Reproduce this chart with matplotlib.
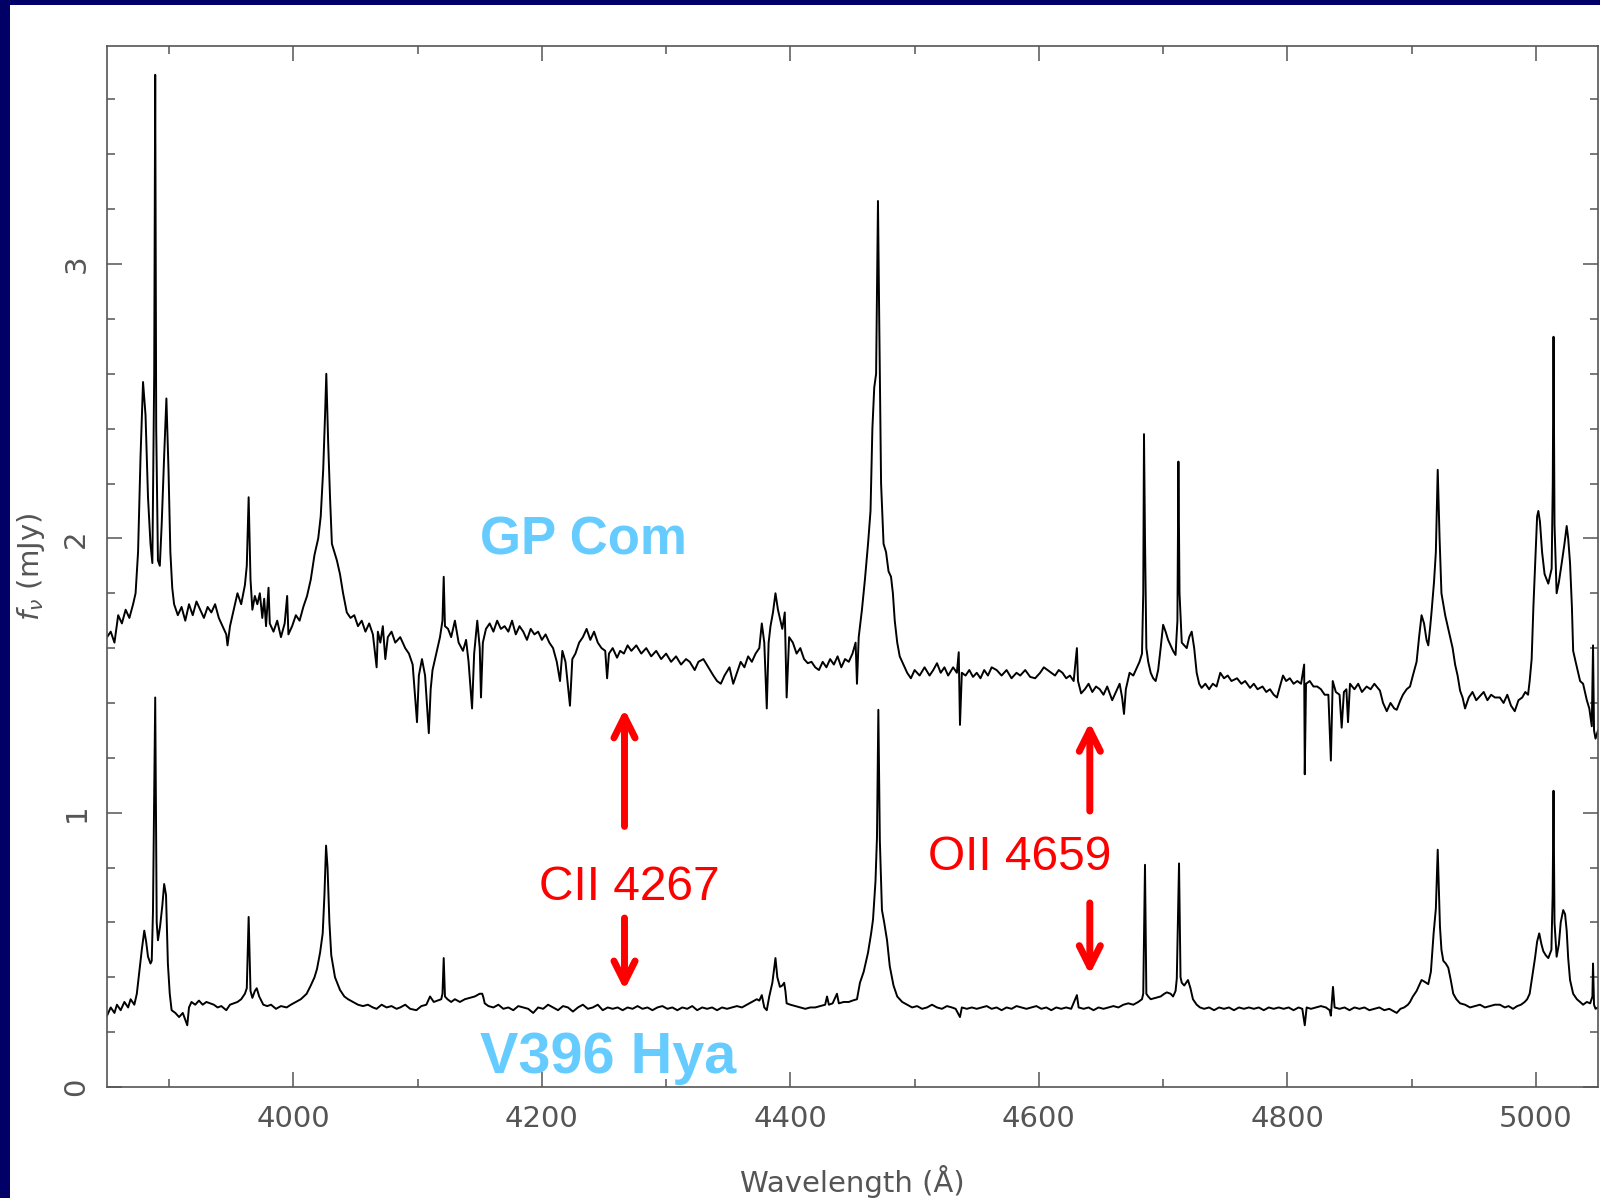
import matplotlib
matplotlib.use("Agg")
import matplotlib.pyplot as plt
from matplotlib.patches import Rectangle
from matplotlib.ticker import MultipleLocator

# GP Com spectrum (wavelength in Angstrom, flux in mJy)
gp_wave = [
    3850, 3853, 3856, 3859, 3862, 3865, 3868, 3871, 3873, 3875,
    3877, 3879, 3881, 3883, 3885, 3886.5, 3888, 3888.8, 3889.6, 3891,
    3892.5, 3894, 3896, 3897.8, 3899.5, 3901, 3902.5, 3904, 3907, 3910,
    3913, 3916, 3919, 3922, 3925, 3928, 3931, 3934, 3937, 3940,
    3943, 3946, 3947, 3949, 3952, 3955, 3958, 3961, 3962.5, 3964,
    3965.5, 3967, 3969, 3971, 3973, 3975, 3976.5, 3978, 3980, 3981,
    3984, 3987, 3990, 3993, 3995, 3996, 3999, 4002, 4005, 4008,
    4011, 4014, 4017, 4020, 4022, 4024, 4025.5, 4026.5, 4028, 4029.5,
    4031, 4033, 4035, 4037.5, 4040, 4043, 4046, 4049, 4052, 4055,
    4058, 4061, 4064, 4067, 4068, 4070, 4072, 4074, 4076, 4079,
    4082, 4086, 4090, 4093, 4096, 4099.5, 4101, 4103.5, 4106, 4109,
    4110.5, 4112, 4115, 4118, 4120, 4121, 4122, 4124.5, 4127, 4130,
    4133, 4136.5, 4139, 4141, 4143.8, 4145.5, 4148, 4150, 4151, 4152.5,
    4155, 4158, 4161, 4164, 4167, 4170, 4173, 4176, 4179, 4182,
    4185, 4188, 4191, 4194, 4197, 4200, 4203, 4206, 4209, 4212,
    4214.6, 4216.5, 4219, 4222.6, 4224.5, 4227, 4230, 4233, 4236, 4239,
    4242, 4245, 4248, 4251, 4252.5, 4254, 4257, 4260.5, 4263, 4266,
    4269, 4272, 4276, 4280, 4284, 4288, 4292, 4296, 4300, 4304,
    4308, 4312, 4316, 4319, 4323, 4326, 4330, 4334, 4338, 4341,
    4344, 4347, 4351, 4354, 4357, 4360, 4363, 4366, 4369, 4372,
    4375, 4377, 4379, 4381, 4382.5, 4384, 4386, 4388, 4390, 4392,
    4393.5, 4395.5, 4397, 4399, 4402, 4405, 4408, 4411, 4414, 4417,
    4420, 4423, 4426, 4429, 4432, 4435, 4438, 4441, 4444, 4447,
    4450, 4452.5, 4453.6, 4455, 4457.6, 4460, 4462.5, 4464.5, 4466, 4467.5,
    4469, 4470.5, 4471.5, 4473, 4475, 4477, 4479, 4481, 4482.5, 4484,
    4486, 4488, 4491, 4494, 4497, 4500, 4504, 4508, 4512, 4515,
    4518, 4521, 4524, 4527, 4531, 4534, 4535.5, 4536.5, 4538, 4541,
    4544, 4547, 4550, 4553, 4556, 4559, 4562, 4566, 4570, 4574,
    4578, 4582, 4585, 4589, 4593, 4597, 4601, 4604, 4607, 4610,
    4613, 4616, 4619, 4622, 4625, 4628, 4630.6, 4631.5, 4634, 4637,
    4640, 4643, 4646, 4649, 4652, 4655, 4659, 4662, 4665, 4667,
    4668.5, 4670, 4673, 4676, 4679, 4681, 4683, 4684, 4684.6, 4685.4,
    4686.5, 4688, 4690, 4692, 4694, 4696, 4698, 4700, 4702, 4704,
    4706, 4708, 4710, 4711.5, 4712.3, 4713.2, 4715, 4717, 4719, 4721,
    4723, 4725, 4727, 4729, 4731, 4734, 4737, 4740, 4743, 4746,
    4749, 4752, 4755, 4759.5, 4763, 4766, 4770, 4773, 4776, 4780,
    4783, 4786, 4789, 4791.6, 4794, 4796.5, 4799, 4802, 4805, 4808,
    4811, 4813.5, 4814, 4815, 4818, 4821, 4824, 4827, 4830, 4833,
    4835, 4836.5, 4839, 4842, 4843.7, 4845.5, 4847.5, 4848.8, 4850.4, 4854,
    4857, 4860, 4863.8, 4867, 4870, 4874.5, 4877, 4880, 4883, 4886,
    4888, 4891, 4893, 4896, 4898.7, 4901, 4904, 4906, 4908, 4910,
    4912, 4913.4, 4915, 4916, 4918, 4919.5, 4921, 4922.5, 4924, 4925.5,
    4927, 4929, 4931, 4933, 4935, 4937, 4939, 4941, 4943, 4946,
    4949, 4952, 4955, 4958, 4961, 4964, 4967, 4971, 4974, 4977,
    4980, 4983, 4986, 4989, 4991.5, 4993.7, 4995, 4996.6, 4998, 4999.3,
    5001, 5002, 5003.3, 5005, 5007, 5010, 5012.7, 5013.6, 5014.2, 5015,
    5016.7, 5018.5, 5020.8, 5023, 5024.8, 5026, 5027.5, 5029, 5030, 5032,
    5035.6, 5038, 5041, 5043, 5045, 5046, 5046.8, 5048, 5050,
]
gp_flux = [
    1.64, 1.66, 1.62, 1.72, 1.69, 1.74, 1.71, 1.76, 1.80, 1.95,
    2.30, 2.57, 2.45, 2.15, 1.98, 1.91, 2.60, 3.69, 2.40, 1.92,
    1.90, 2.05, 2.30, 2.51, 2.25, 1.95, 1.82, 1.76, 1.72, 1.75,
    1.70, 1.76, 1.72, 1.77, 1.74, 1.71, 1.75, 1.73, 1.76, 1.71,
    1.68, 1.65, 1.61, 1.68, 1.74, 1.80, 1.76, 1.83, 1.90, 2.15,
    1.85, 1.74, 1.79, 1.76, 1.80, 1.71, 1.78, 1.68, 1.82, 1.69,
    1.66, 1.70, 1.64, 1.69, 1.79, 1.65, 1.68, 1.72, 1.70, 1.75,
    1.79, 1.85, 1.94, 2.00, 2.08, 2.25, 2.45, 2.60, 2.35, 2.15,
    1.98, 1.95, 1.92, 1.87, 1.80, 1.73, 1.71, 1.72, 1.68, 1.70,
    1.66, 1.69, 1.65, 1.53, 1.66, 1.62, 1.68, 1.56, 1.64, 1.66,
    1.62, 1.64, 1.60, 1.58, 1.54, 1.33, 1.50, 1.56, 1.50, 1.29,
    1.45, 1.52, 1.58, 1.64, 1.70, 1.86, 1.68, 1.67, 1.64, 1.70,
    1.62, 1.59, 1.63, 1.55, 1.38, 1.58, 1.70, 1.60, 1.42, 1.62,
    1.67, 1.69, 1.66, 1.70, 1.67, 1.68, 1.66, 1.70, 1.65, 1.68,
    1.66, 1.63, 1.67, 1.65, 1.66, 1.63, 1.65, 1.62, 1.60, 1.55,
    1.48, 1.59, 1.55, 1.39, 1.56, 1.58, 1.62, 1.64, 1.67, 1.63,
    1.66, 1.62, 1.60, 1.59, 1.49, 1.58, 1.60, 1.565, 1.59, 1.58,
    1.61, 1.59, 1.61, 1.58, 1.60, 1.57, 1.59, 1.56, 1.58, 1.55,
    1.57, 1.54, 1.56, 1.55, 1.52, 1.55, 1.56, 1.53, 1.50, 1.48,
    1.47, 1.50, 1.53, 1.47, 1.51, 1.55, 1.53, 1.57, 1.55, 1.58,
    1.60, 1.69, 1.62, 1.38, 1.62, 1.68, 1.73, 1.80, 1.74, 1.70,
    1.67, 1.73, 1.42, 1.64, 1.62, 1.58, 1.60, 1.56, 1.545, 1.55,
    1.53, 1.52, 1.55, 1.53, 1.56, 1.54, 1.57, 1.53, 1.56, 1.55,
    1.58, 1.62, 1.47, 1.64, 1.74, 1.85, 1.98, 2.10, 2.40, 2.55,
    2.60, 3.23, 2.80, 2.20, 1.98, 1.95, 1.88, 1.86, 1.80, 1.70,
    1.62, 1.57, 1.54, 1.51, 1.49, 1.52, 1.50, 1.53, 1.50, 1.52,
    1.545, 1.51, 1.53, 1.50, 1.53, 1.51, 1.585, 1.32, 1.51, 1.50,
    1.52, 1.495, 1.51, 1.49, 1.52, 1.50, 1.53, 1.52, 1.50, 1.52,
    1.49, 1.51, 1.50, 1.52, 1.495, 1.49, 1.51, 1.53, 1.52, 1.51,
    1.50, 1.52, 1.51, 1.49, 1.50, 1.48, 1.60, 1.48, 1.435, 1.45,
    1.47, 1.44, 1.46, 1.45, 1.43, 1.46, 1.41, 1.44, 1.47, 1.42,
    1.36, 1.45, 1.51, 1.50, 1.53, 1.55, 1.58, 1.80, 2.38, 2.00,
    1.60, 1.55, 1.51, 1.49, 1.48, 1.52, 1.60, 1.685, 1.66, 1.63,
    1.61, 1.59, 1.575, 1.70, 2.28, 1.80, 1.62, 1.61, 1.60, 1.64,
    1.66, 1.60, 1.51, 1.47, 1.455, 1.47, 1.45, 1.47, 1.46, 1.51,
    1.49, 1.50, 1.48, 1.49, 1.47, 1.48, 1.455, 1.47, 1.45, 1.46,
    1.44, 1.45, 1.43, 1.42, 1.46, 1.50, 1.48, 1.49, 1.47, 1.48,
    1.47, 1.54, 1.14, 1.47, 1.48, 1.46, 1.46, 1.45, 1.43, 1.43,
    1.19, 1.48, 1.44, 1.43, 1.31, 1.44, 1.45, 1.33, 1.47, 1.45,
    1.47, 1.44, 1.46, 1.45, 1.47, 1.445, 1.40, 1.37, 1.40, 1.38,
    1.375, 1.41, 1.43, 1.45, 1.46, 1.50, 1.55, 1.64, 1.72, 1.69,
    1.63, 1.61, 1.68, 1.73, 1.84, 1.95, 2.25, 2.00, 1.80, 1.76,
    1.72, 1.68, 1.64, 1.60, 1.54, 1.50, 1.445, 1.42, 1.38, 1.42,
    1.44, 1.41, 1.425, 1.44, 1.41, 1.43, 1.42, 1.42, 1.40, 1.43,
    1.39, 1.37, 1.41, 1.42, 1.44, 1.43, 1.48, 1.56, 1.75, 1.89,
    2.08, 2.10, 2.06, 1.95, 1.87, 1.835, 1.89, 2.20, 2.735, 2.05,
    1.80, 1.84, 1.91, 1.98, 2.045, 2.00, 1.91, 1.75, 1.59, 1.55,
    1.48, 1.47, 1.41, 1.38, 1.315, 1.61, 1.30, 1.27, 1.30,
]

# V396 Hya spectrum
hya_wave = [
    3850, 3853, 3856, 3858, 3861, 3864, 3867, 3869, 3872, 3874,
    3876, 3878, 3880, 3881.5, 3883, 3885, 3886, 3887, 3888.8, 3890,
    3891, 3892.7, 3894.5, 3896, 3897.5, 3899, 3900.5, 3902, 3905, 3908,
    3911, 3914.6, 3916, 3918, 3921, 3924, 3927, 3930, 3933, 3936,
    3939, 3942, 3946, 3949, 3952, 3955, 3958, 3961, 3962.5, 3964,
    3965.5, 3967, 3969, 3970.5, 3972.5, 3975.8, 3979, 3982, 3986, 3990,
    3994.6, 3998, 4002, 4006, 4010.7, 4014, 4017, 4019, 4021.5, 4023.6,
    4025, 4026.3, 4027.5, 4029, 4030.5, 4033.5, 4037.5, 4041, 4044, 4048,
    4052, 4056, 4060, 4064, 4067, 4071, 4075, 4079, 4083, 4086,
    4090, 4094, 4099, 4103, 4107, 4110, 4113, 4116, 4119, 4120,
    4121, 4122, 4124, 4127, 4130, 4134, 4138, 4142, 4146, 4148,
    4150, 4152, 4153, 4154, 4157, 4161, 4165, 4169, 4173, 4177,
    4181, 4185, 4189, 4193, 4197, 4201, 4205, 4209, 4213, 4217,
    4221, 4225, 4229, 4233, 4237, 4241, 4245, 4249, 4253, 4257,
    4261, 4265, 4269, 4273, 4277, 4281, 4285, 4289, 4293, 4297,
    4301, 4305, 4309, 4313, 4317, 4321, 4325, 4329, 4333, 4337,
    4341, 4345, 4349, 4353, 4357, 4361, 4365, 4369, 4373, 4375,
    4377, 4379, 4381, 4383, 4385.5, 4388, 4389.5, 4391.6, 4393.5, 4395,
    4396, 4397, 4400, 4404, 4408, 4412, 4416, 4420, 4424, 4428,
    4429.5, 4431, 4434, 4437.5, 4439, 4443, 4447, 4450, 4453.6, 4456,
    4459, 4462.5, 4465, 4466.5, 4468.5, 4469.7, 4470.8, 4472, 4473.7, 4475.5,
    4477.8, 4480, 4483, 4486, 4490, 4494, 4498, 4502, 4506, 4510,
    4514, 4518, 4522, 4526, 4530, 4533, 4536.5, 4538, 4542, 4546,
    4550, 4554, 4558, 4562, 4566, 4570, 4574, 4578, 4582, 4586,
    4590, 4594, 4598, 4602, 4606, 4610, 4614, 4618, 4622, 4626,
    4630.6, 4632, 4636, 4640, 4644, 4648, 4652, 4656, 4660, 4664,
    4668, 4672, 4676, 4680, 4683, 4684, 4685.4, 4686.5, 4688, 4690,
    4694, 4698, 4701, 4703, 4706, 4708, 4710, 4711, 4712.8, 4714,
    4715, 4717, 4720, 4722, 4724, 4727, 4729.7, 4733, 4737, 4741,
    4745, 4749, 4753, 4757, 4761, 4765, 4769, 4773, 4777, 4781,
    4785, 4789, 4793, 4797, 4801, 4805, 4809, 4812, 4814, 4815.5,
    4819, 4823, 4827, 4831, 4834, 4835, 4836.7, 4838, 4842, 4846,
    4850, 4854, 4858, 4862, 4866, 4870, 4874, 4878, 4882, 4886,
    4888, 4891, 4894, 4897, 4898.7, 4901, 4904, 4906, 4908, 4910,
    4913.4, 4915.5, 4917.7, 4919.5, 4921, 4922.8, 4924, 4925.5, 4927.5, 4929.5,
    4931.5, 4933.5, 4936, 4939, 4943, 4947, 4951, 4955, 4959, 4963,
    4967, 4971, 4975, 4978, 4981.6, 4985, 4988, 4991, 4993, 4995,
    4997, 4999.3, 5001, 5002.7, 5004.5, 5006, 5008, 5010, 5012.5, 5013.5,
    5014.2, 5015, 5016.7, 5018.5, 5020, 5022, 5023.5, 5024.8, 5026, 5027.5,
    5030, 5033, 5035.6, 5038, 5041, 5043.7, 5045.5, 5046, 5046.8, 5048,
    5050,
]
hya_flux = [
    0.26, 0.29, 0.27, 0.30, 0.28, 0.31, 0.29, 0.32, 0.30, 0.34,
    0.42, 0.50, 0.57, 0.53, 0.475, 0.45, 0.46, 0.64, 1.42, 0.60,
    0.535, 0.585, 0.66, 0.74, 0.70, 0.45, 0.34, 0.28, 0.27, 0.255,
    0.27, 0.225, 0.29, 0.31, 0.30, 0.315, 0.30, 0.31, 0.305, 0.30,
    0.29, 0.295, 0.28, 0.30, 0.305, 0.31, 0.32, 0.34, 0.36, 0.62,
    0.35, 0.325, 0.35, 0.36, 0.33, 0.30, 0.295, 0.30, 0.285, 0.295,
    0.29, 0.30, 0.31, 0.32, 0.34, 0.37, 0.40, 0.43, 0.49, 0.56,
    0.70, 0.88, 0.80, 0.60, 0.48, 0.40, 0.354, 0.33, 0.32, 0.31,
    0.30, 0.295, 0.30, 0.29, 0.285, 0.30, 0.29, 0.295, 0.285, 0.29,
    0.30, 0.285, 0.28, 0.295, 0.30, 0.33, 0.31, 0.315, 0.32, 0.34,
    0.47, 0.33, 0.32, 0.31, 0.32, 0.31, 0.32, 0.325, 0.33, 0.335,
    0.34, 0.34, 0.325, 0.305, 0.295, 0.29, 0.30, 0.285, 0.29, 0.28,
    0.295, 0.29, 0.285, 0.27, 0.29, 0.285, 0.30, 0.29, 0.28, 0.295,
    0.29, 0.275, 0.29, 0.30, 0.285, 0.29, 0.30, 0.28, 0.29, 0.285,
    0.29, 0.28, 0.29, 0.285, 0.295, 0.285, 0.29, 0.28, 0.29, 0.295,
    0.285, 0.29, 0.28, 0.29, 0.285, 0.295, 0.28, 0.29, 0.285, 0.29,
    0.28, 0.29, 0.285, 0.29, 0.295, 0.29, 0.30, 0.31, 0.32, 0.315,
    0.335, 0.29, 0.28, 0.33, 0.38, 0.47, 0.40, 0.365, 0.37, 0.38,
    0.35, 0.305, 0.30, 0.295, 0.29, 0.285, 0.29, 0.29, 0.295, 0.30,
    0.33, 0.30, 0.305, 0.34, 0.305, 0.31, 0.31, 0.315, 0.32, 0.38,
    0.42, 0.49, 0.56, 0.61, 0.75, 0.91, 1.375, 0.90, 0.645, 0.60,
    0.535, 0.44, 0.37, 0.33, 0.31, 0.30, 0.29, 0.295, 0.285, 0.29,
    0.30, 0.29, 0.285, 0.295, 0.29, 0.285, 0.255, 0.29, 0.285, 0.29,
    0.285, 0.29, 0.295, 0.285, 0.29, 0.28, 0.29, 0.285, 0.295, 0.29,
    0.285, 0.29, 0.295, 0.285, 0.29, 0.28, 0.29, 0.285, 0.29, 0.285,
    0.335, 0.29, 0.285, 0.29, 0.28, 0.29, 0.285, 0.29, 0.295, 0.29,
    0.30, 0.305, 0.30, 0.31, 0.32, 0.34, 0.81, 0.34, 0.33, 0.32,
    0.325, 0.33, 0.34, 0.345, 0.34, 0.33, 0.35, 0.395, 0.815, 0.40,
    0.38, 0.37, 0.39, 0.36, 0.32, 0.30, 0.29, 0.285, 0.29, 0.28,
    0.29, 0.285, 0.29, 0.28, 0.29, 0.285, 0.29, 0.285, 0.29, 0.28,
    0.29, 0.285, 0.29, 0.285, 0.29, 0.28, 0.29, 0.285, 0.225, 0.29,
    0.285, 0.29, 0.295, 0.29, 0.28, 0.26, 0.365, 0.29, 0.285, 0.29,
    0.28, 0.29, 0.285, 0.29, 0.28, 0.285, 0.29, 0.28, 0.285, 0.275,
    0.27, 0.285, 0.29, 0.30, 0.31, 0.33, 0.35, 0.37, 0.39, 0.385,
    0.375, 0.42, 0.56, 0.65, 0.865, 0.585, 0.50, 0.46, 0.45, 0.435,
    0.39, 0.34, 0.32, 0.305, 0.30, 0.29, 0.295, 0.30, 0.29, 0.295,
    0.30, 0.30, 0.29, 0.295, 0.285, 0.295, 0.30, 0.31, 0.32, 0.34,
    0.40, 0.47, 0.53, 0.56, 0.52, 0.495, 0.48, 0.47, 0.50, 0.70,
    1.08, 0.60, 0.475, 0.52, 0.60, 0.645, 0.63, 0.57, 0.47, 0.39,
    0.34, 0.32, 0.31, 0.30, 0.31, 0.305, 0.33, 0.45, 0.30, 0.285,
    0.29,
]

# annotations: (label, x, y) and arrows (x, tail, tip)
star_labels = ["GP Com", "V396 Hya"]
star_label_x = [4150, 4150]
star_label_y = [1.94, 0.05]
star_label_size = [38, 41.5]
line_labels = ["CII 4267", "OII 4659"]
line_label_x = [4198, 4511]
line_label_y = [0.68, 0.79]
arrow_x = [4266.5, 4266.5, 4641, 4641]
arrow_tail = [0.95, 0.616, 1.006, 0.671]
arrow_tip = [1.378, 0.354, 1.329, 0.41]

navy = "#000066"
grey = "#555555"

fig = plt.figure(figsize=(16, 11.98), dpi=100, facecolor=navy)
# white slide panel behind the plot
fig.patches.append(Rectangle((10 / 1600, 0), 1, 1 - 5 / 1198, transform=fig.transFigure,
                             facecolor="white", edgecolor="none", zorder=-10))

ax = fig.add_axes([107 / 1600, 1 - 1087 / 1198, (1598 - 107) / 1600, (1087 - 46) / 1198])
ax.set_facecolor("white")
ax.plot(gp_wave, gp_flux, color="black", lw=1.4)
ax.plot(hya_wave, hya_flux, color="black", lw=1.4)

ax.set_xlim(3850, 5050)
ax.set_ylim(0, 3.795)
ax.xaxis.set_major_locator(MultipleLocator(200))
ax.xaxis.set_minor_locator(MultipleLocator(100))
ax.yaxis.set_major_locator(MultipleLocator(1))
ax.yaxis.set_minor_locator(MultipleLocator(0.2))

for s in ax.spines.values():
    s.set_color(grey)
    s.set_linewidth(1.2)
ax.tick_params(which="both", direction="in", top=True, right=True, color=grey, width=1.1,
               labelcolor=grey, labelsize=21)
ax.tick_params(which="major", length=11)
ax.tick_params(which="minor", length=5.5)
ax.tick_params(axis="x", pad=13)
ax.tick_params(axis="y", pad=12, labelrotation=90)
for lab in ax.get_yticklabels():
    lab.set_verticalalignment("center")

ax.set_xlabel("Wavelength (Å)", color=grey, fontsize=21)
ax.set_ylabel(r"$f_\nu$ (mJy)", color=grey, fontsize=21)
ax.xaxis.set_label_coords(0.5, -(1182 - 1087) / (1087 - 46))
ax.xaxis.label.set_verticalalignment("center")
ax.yaxis.set_label_coords((31 - 107) / (1598 - 107), 0.5)
ax.yaxis.label.set_verticalalignment("center")

for txt, x, y, sz in zip(star_labels, star_label_x, star_label_y, star_label_size):
    ax.text(x, y, txt, color="#66CCFF", fontsize=sz, fontweight="bold",
            family="Liberation Sans", ha="left", va="baseline")
for txt, x, y in zip(line_labels, line_label_x, line_label_y):
    ax.text(x, y, txt, color="#FF0000", fontsize=34.5,
            family="Liberation Sans", ha="left", va="baseline")
for x, tail, tip in zip(arrow_x, arrow_tail, arrow_tip):
    ax.annotate("", xy=(x, tip), xytext=(x, tail),
                arrowprops=dict(arrowstyle="->", color="#FF0000", lw=5, mutation_scale=38,
                                shrinkA=0, shrinkB=0))

fig.savefig("out.png", dpi=100, facecolor=navy)
